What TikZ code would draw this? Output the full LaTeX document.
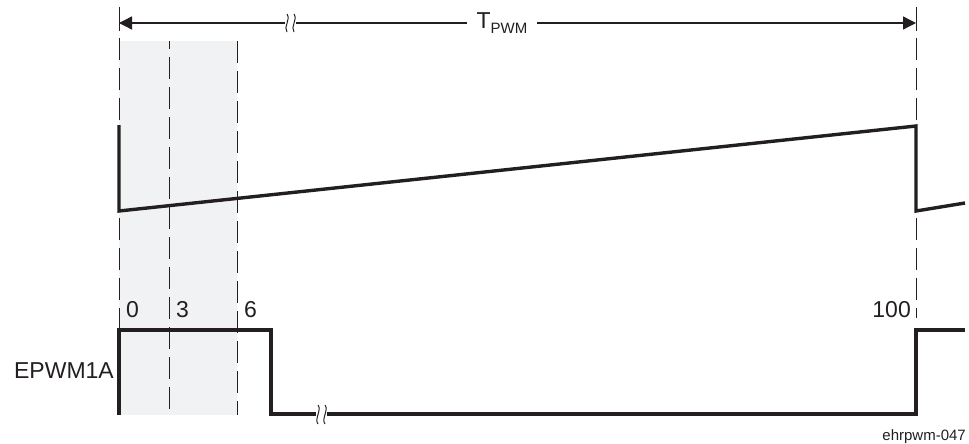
\documentclass[tikz,border=0pt]{standalone}
\usepackage{fontspec}
\setmainfont{Liberation Sans}
\usetikzlibrary{arrows.meta}
\definecolor{winfill}{RGB}{241,242,244}
\definecolor{ink}{RGB}{35,31,32}
\begin{document}
\begin{tikzpicture}[x=1pt,y=-1pt,
  sig/.style={line width=3.4pt, draw=ink, line join=miter, line cap=butt},
  guide/.style={line width=1pt, draw=ink, dash pattern=on 22pt off 8pt},
  dim/.style={line width=1.4pt, draw=ink, {Triangle[length=13pt,width=13pt]}-{Triangle[length=13pt,width=13pt]}},
  lbl/.style={font=\fontsize{23}{23}\selectfont, text=ink, inner sep=0pt},
  brk/.style={line width=1pt, draw=ink}]
\useasboundingbox (0,0) rectangle (969,444);
% shaded window
\fill[winfill] (119,41) rectangle (237,415);
% coordinates
\coordinate (L0) at (119,7);
\coordinate (L1) at (119,415);
\coordinate (R0) at (916,7);
\coordinate (R1) at (916,318);
\coordinate (M0) at (169,41);
\coordinate (M1) at (169,415);
\coordinate (S0) at (237,41);
\coordinate (S1) at (237,415);
\coordinate (AL) at (119,23);
\coordinate (AR) at (916,23);
% guide lines
\draw[line width=1pt, draw=ink] (L0) -- (119,31);
\draw[line width=1pt, draw=ink] (R0) -- (916,31);
\draw[guide] (119,38) -- (L1);
\draw[guide] (916,38) -- (R1);
\draw[guide, dash phase=14pt] (M0) -- (M1);
\draw[guide] (S0) -- (S1);
% dimension arrow
\draw[dim] (AL) -- (AR);
\node[lbl, fill=white, inner xsep=10pt, inner ysep=2pt] (tpwm) at (502,23) {T\raisebox{-0.35ex}{\fontsize{15}{15}\selectfont PWM}};
% break mark on arrow
\fill[white] (285,14) rectangle (296,32);
\draw[brk] (287,32) .. controls (283,27) and (291,20) .. (287,14);
\draw[brk] (294,32) .. controls (290,27) and (298,20) .. (294,14);
% sawtooth
\coordinate (c1) at (119,125);
\coordinate (c2) at (119,211);
\coordinate (c3) at (916,126);
\coordinate (c4) at (916,211);
\coordinate (c5) at (965,203);
\draw[sig] (c1) -- (c2) -- (c3) -- (c4) -- (c5);
% EPWM1A waveform
\coordinate (p1) at (119,415);
\coordinate (p2) at (119,330);
\coordinate (p3) at (271,330);
\coordinate (p4) at (271,414);
\coordinate (p5) at (916,414);
\coordinate (p6) at (916,330);
\coordinate (p7) at (965,330);
\draw[sig] (p1) -- (p2) -- (p3) -- (p4) -- (p5) -- (p6) -- (p7);
% break on low line
\fill[white] (316,405) rectangle (327,424);
\draw[brk] (318,424) .. controls (314,419) and (322,410) .. (318,405);
\draw[brk] (325,424) .. controls (321,419) and (329,410) .. (325,405);
% labels
\node[lbl, anchor=west] (n0) at (126,310) {0};
\node[lbl, anchor=west] (n3) at (176,310) {3};
\node[lbl, anchor=west] (n6) at (244,310) {6};
\node[lbl, anchor=east] (n100) at (911,310) {100};
\node[lbl, anchor=east] (sig) at (114,371) {EPWM1A};
\node[font=\fontsize{15}{15}\selectfont, text=ink, inner sep=0pt, anchor=east] (fig) at (966,437) {ehrpwm-047};
\end{tikzpicture}
\end{document}
